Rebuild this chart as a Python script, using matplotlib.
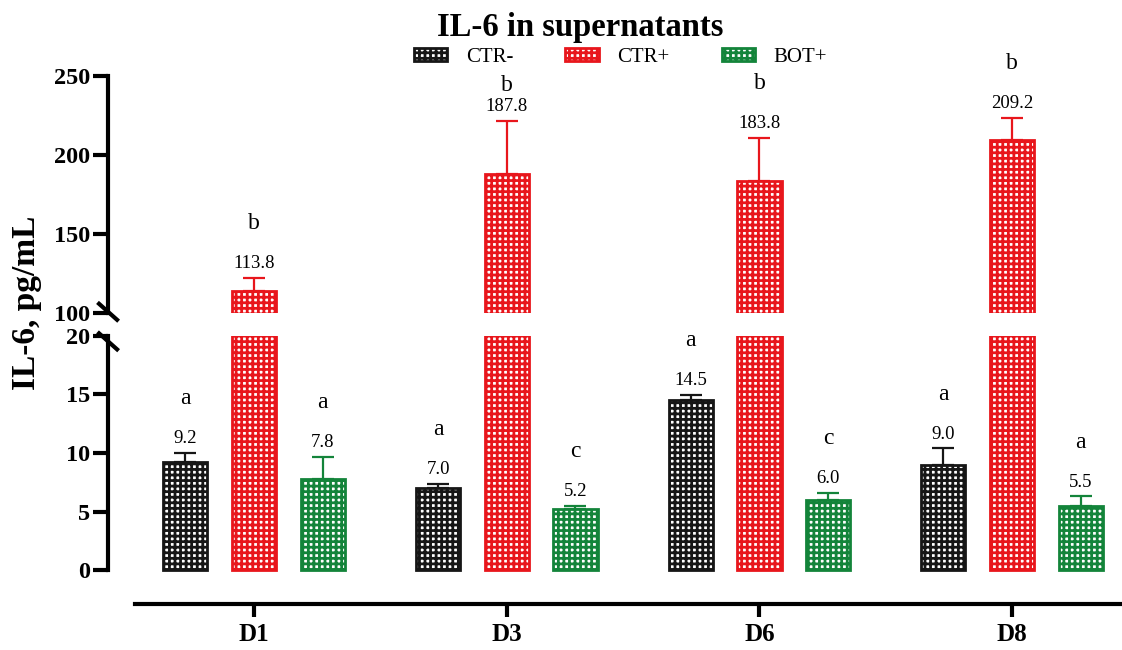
import matplotlib
matplotlib.use('Agg')
import matplotlib.pyplot as plt
import numpy as np

plt.rcParams['font.family'] = ['Liberation Serif', 'DejaVu Serif']
plt.rcParams['hatch.linewidth'] = 2.0

# data (pg/mL, mean and upper SD)
days = ['D1', 'D3', 'D6', 'D8']
groups = ['CTR-', 'CTR+', 'BOT+']
ctr_neg = [9.2, 7.0, 14.5, 9.0]
ctr_neg_sd = [0.8, 0.35, 0.45, 1.4]
ctr_pos = [113.8, 187.8, 183.8, 209.2]
ctr_pos_sd = [8.4, 34.0, 27.0, 14.2]
bot_pos = [7.8, 5.2, 6.0, 5.5]
bot_pos_sd = [1.9, 0.3, 0.6, 0.8]
letters_neg = ['a', 'a', 'a', 'a']
letters_pos = ['b', 'b', 'b', 'b']
letters_bot = ['a', 'c', 'c', 'a']

colors = ['#161616', '#e8161c', '#13843a']
means = [ctr_neg, ctr_pos, bot_pos]
sds = [ctr_neg_sd, ctr_pos_sd, bot_pos_sd]
letters = [letters_neg, letters_pos, letters_bot]

fig = plt.figure(figsize=(11.22, 6.5), dpi=100)
ax_lo = fig.add_axes([0.0963, 0.0708, 0.9037, 0.4123])
ax_hi = fig.add_axes([0.0963, 0.5185, 0.9037, 0.3646])

x = np.arange(len(days))
offsets = [-0.272, 0.0, 0.272]
w = 0.175

for ax in (ax_lo, ax_hi):
    for i in range(3):
        ax.bar(x + offsets[i], means[i], w, facecolor='white', edgecolor=colors[i],
               hatch='+++', linewidth=2, zorder=2,
               label=groups[i] if ax is ax_lo else None)
        ax.errorbar(x + offsets[i], means[i], yerr=[np.zeros(len(days)), sds[i]],
                    fmt='none', ecolor=colors[i], capsize=8, elinewidth=1.6,
                    capthick=1.6, zorder=1)

# value + letter labels (D3 CTR+ letter squeezed down in the original)
letter_nudge = {(1, 1): -14}
for i in range(3):
    for j in range(len(days)):
        top = means[i][j] + sds[i][j]
        ax = ax_hi if top > 100 else ax_lo
        xi = x[j] + offsets[i]
        ax.annotate(f'{means[i][j]:.1f}', xy=(xi, top), xytext=(0, 7),
                    textcoords='offset points', ha='center', va='baseline',
                    fontsize=13.5, annotation_clip=False)
        ax.annotate(letters[i][j], xy=(xi, top),
                    xytext=(0, 35 + letter_nudge.get((i, j), 0)),
                    textcoords='offset points', ha='center', va='baseline',
                    fontsize=17, annotation_clip=False)

xlim = (-0.578, 3.435)
for ax in (ax_lo, ax_hi):
    ax.set_xlim(*xlim)
    ax.spines['top'].set_visible(False)
    ax.spines['right'].set_visible(False)
    ax.spines['left'].set_linewidth(3)
    ax.tick_params(axis='y', length=11, width=3, labelsize=17.5, pad=2)

ax_lo.set_ylim(-2.9, 20)
ax_lo.set_yticks([0, 5, 10, 15, 20])
ax_lo.spines['left'].set_bounds(0, 20)
ax_lo.spines['bottom'].set_linewidth(3)
ax_lo.spines['bottom'].set_bounds(-0.471, xlim[1])
ax_lo.set_xticks(x)
ax_lo.set_xticklabels(days, fontsize=18, fontweight='bold')
ax_lo.tick_params(axis='x', length=9, width=3, pad=5)

ax_hi.set_ylim(100, 250)
ax_hi.set_yticks([100, 150, 200, 250])
ax_hi.spines['left'].set_bounds(100, 250)
ax_hi.spines['bottom'].set_visible(False)
ax_hi.set_xticks([])

for ax in (ax_lo, ax_hi):
    for lab in ax.get_yticklabels():
        lab.set_fontweight('bold')

# axis break marks
dx = 9 / 1014
ax_lo.plot([-dx, dx], [1 + 8 / 268 - 0.02, 1 - 8 / 268 - 0.02], transform=ax_lo.transAxes,
           color='black', lw=3, clip_on=False)
ax_hi.plot([-dx, dx], [8 / 237 + 0.005, -8 / 237 + 0.005], transform=ax_hi.transAxes,
           color='black', lw=3, clip_on=False)

fig.text(0.024, 0.534, 'IL-6, pg/mL', rotation=90, fontweight='bold', fontsize=24,
         ha='center', va='center')
fig.text(0.517, 0.958, 'IL-6 in supernatants', fontweight='bold', fontsize=23.5,
         ha='center', va='center')
fig.legend(*ax_lo.get_legend_handles_labels(), loc='center', bbox_to_anchor=(0.553, 0.912),
           ncol=3, frameon=False, fontsize=15, handlelength=1.6, handleheight=0.6,
           handletextpad=0.9, columnspacing=2.5)

fig.savefig('out.png', dpi=100, facecolor='white')
